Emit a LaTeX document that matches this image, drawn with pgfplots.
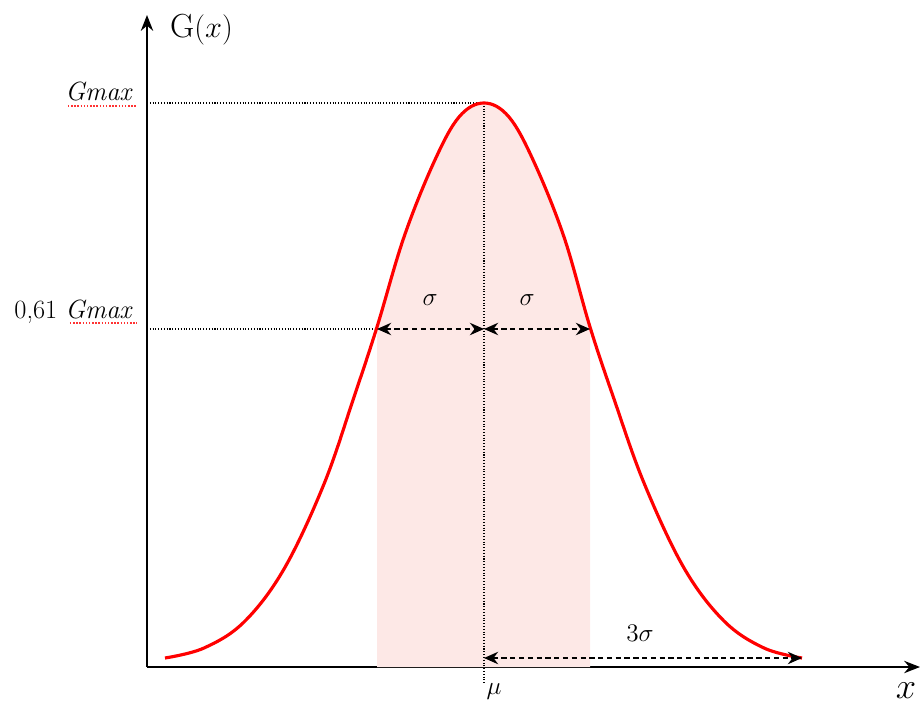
\documentclass[border=0pt]{standalone}
\usepackage{pgfplots}
\pgfplotsset{compat=1.18}
\usetikzlibrary{arrows.meta}
\definecolor{bandpink}{RGB}{253,232,230}
\begin{document}
\begin{tikzpicture}
\begin{axis}[
    scale only axis,
    width=15.46cm, height=13.04cm,
    xmin=-337, xmax=436, ymin=0, ymax=652,
    axis lines=left,
    axis line style={line width=1.2pt, -{Stealth[length=9pt,width=7pt]}},
    xtick=\empty, ytick=\empty,
    clip=false,
]
% shaded band between -sigma and +sigma
\addplot[fill=bandpink, draw=none, smooth, tension=0.6] coordinates {
    (-107,340) (-80,430) (-50,505) (-25,550) (0,564)
    (25,550) (50,505) (80,430) (106,340)
} \closedcycle;
% dotted guides
\draw[densely dotted, line width=0.6pt] (axis cs:-337,564) -- (axis cs:0,564);
\draw[densely dotted, line width=0.6pt] (axis cs:0,564) -- (axis cs:0,-16);
\draw[densely dotted, line width=0.6pt] (axis cs:-337,338) -- (axis cs:-107,338);
% curve
\addplot[red, line width=1.8pt, smooth, tension=0.6] coordinates {
    (-319,9) (-280,19) (-240,45) (-200,98) (-160,183) (-130,270) (-107,340)
    (-80,430) (-50,505) (-25,550) (0,564)
    (25,550) (50,505) (80,430) (106,340)
    (130,268) (160,184) (200,99) (240,46) (280,19) (318,9)
};
% sigma arrows
\draw[densely dashed, line width=1.3pt, {Stealth[length=8pt,width=7pt]}-{Stealth[length=8pt,width=7pt]}]
    (axis cs:-107,338) -- (axis cs:0,338);
\draw[densely dashed, line width=1.3pt, {Stealth[length=8pt,width=7pt]}-{Stealth[length=8pt,width=7pt]}]
    (axis cs:0,338) -- (axis cs:106,338);
\draw[densely dashed, line width=1.3pt, {Stealth[length=8pt,width=7pt]}-{Stealth[length=8pt,width=7pt]}]
    (axis cs:0,9) -- (axis cs:318,9);
\node[font=\fontsize{15}{17}\selectfont] at (axis cs:-54,367) {$\sigma$};
\node[font=\fontsize{15}{17}\selectfont] at (axis cs:43,367) {$\sigma$};
\node[font=\fontsize{15}{17}\selectfont] at (axis cs:156,34) {$3\sigma$};
% labels
\node[font=\fontsize{19}{21}\selectfont, anchor=west] at (axis cs:-320,637) {G$(x)$};
\node[font=\fontsize{15}{17}\selectfont, anchor=base east] at (axis cs:-345,567) {\textit{Gmax}};
\node[font=\fontsize{15}{17}\selectfont, anchor=base east] at (axis cs:-345,349) {0,61 \textit{Gmax}};
\draw[red!80, densely dotted, line width=0.8pt] (axis cs:-416,561) -- (axis cs:-347,561);
\draw[red!80, densely dotted, line width=0.8pt] (axis cs:-414,344) -- (axis cs:-347,344);
\node[font=\fontsize{14}{16}\selectfont] at (axis cs:10,-24) {$\mu$};
\node[font=\fontsize{20}{22}\selectfont] at (axis cs:422,-24) {$x$};
\coordinate (bbA) at (axis cs:-484,-39);
\coordinate (bbB) at (axis cs:438,667);
\end{axis}
\pgfresetboundingbox
\path (bbA) rectangle (bbB);
\end{tikzpicture}
\end{document}
